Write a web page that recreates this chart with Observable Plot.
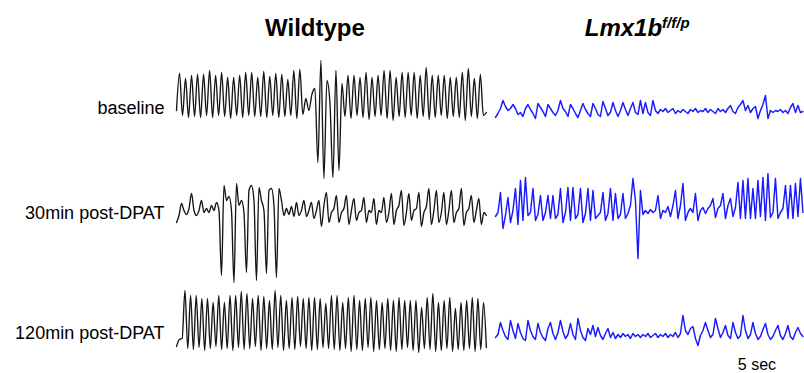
<!DOCTYPE html>
<html><head><meta charset="utf-8">
<script src="https://cdn.jsdelivr.net/npm/d3@7"></script>
<script src="https://cdn.jsdelivr.net/npm/@observablehq/plot@0.6"></script>
<style>
body{margin:0;background:#fff;font-family:"Liberation Sans",Arial,sans-serif}
#chart{width:804px;height:373px}
</style>
</head><body><div id="chart"></div>
<script>
// ---- categories / labels ----
const genotypes = ["Wildtype", "Lmx1b"];
const genotypeSup = ["", "f/f/p"];
const conditions = ["baseline", "30min post-DPAT", "120min post-DPAT"];
const scaleBarLabel = "5 sec";

// ---- trace values (amplitude relative to resting level, a.u.; evenly sampled in time) ----
const wtBaseline = [0,
 37,-5,32,-7,35,-6,36,-7,36,-5,40,-7,35,-5,38,-6,33,-8,33,-5,35,-7,38,-5,38,-6,33,-6,39,-7,34,-5,37,-7,36,-6,31,-5,40,-8,41,
 -4,12,0,16,22,-52,50,-68,30,8,-67,40,-60,27,
 -6,35,-8,35,-5,33,-7,38,-9,33,-6,35,-5,40,-8,40,-10,33,-6,38,-7,38,-5,38,-8,35,-6,43,-9,35,-7,35,-5,35,-8,33,-6,33,-7,38,-10,42,-6,32,-8,36,-5,
 -2];
const wt30min = [
 -10,-3,9,2,-2,4,19,2,-3,2,12,0,4,0,7,2,10,2,
 -63,27,12,16,2,-70,29,7,12,0,-60,22,27,12,-68,25,12,2,-61,22,24,7,-65,24,12,
 -3,4,-2,6,-4,10,-3,2,12,-4,2,10,-6,2,12,-14,7,20,-10,0,4,17,-10,0,4,17,-12,2,14,-8,0,2,15,-10,2,0,14,-12,2,0,15,-10,0,19,-12,2,7,22,-13,0,19,-8,2,4,20,-14,0,6,24,-12,2,22,-10,0,20,-12,2,22,-10,0,4,24,-13,0,4,17,-10,2,14,-12,0,-3];
const wt120min = [-1,6,7,
 55,-3,50,-4,50,-2,47,-5,47,-3,43,-1,50,-4,43,-3,50,-5,50,-2,
 54,-4,52,-3,47,-1,50,-5,49,-3,45,-4,55,-2,50,-5,45,-3,48,-4,
 49,-1,47,-3,48,-5,48,-4,47,-2,42,-3,50,-4,50,-5,
 43,-3,48,-6,50,-4,45,-5,47,-2,48,-6,45,-4,43,-3,47,-5,45,-6,
 48,-4,45,-2,45,-5,45,-7,38,-3,48,-4,52,-6,43,-5,45,-3,48,-6,
 37,-4,43,-5,45,-3,48,-6,47,-4,43,-2];
const lmxBaseline = [
 -6,-2,3,11,5,1,3,7,3,-3,-1,-5,3,7,2,-2,-7,8,4,0,-5,7,3,-1,-4,1,11,3,0,-5,7,3,-2,-6,1,8,2,-2,-5,8,3,-3,-5,10,3,-4,-1,9,1,-5,1,9,2,-4,3,9,-1,-3,11,-2,9,-1,-4,11,1,
 -2,2,0,3,-1,1,3,-2,1,-1,2,0,-2,2,0,3,-1,1,0,3,-1,2,0,-2,3,0,2,-1,3,
 6,0,-2,4,7,11,1,6,-1,3,5,-7,1,7,16,-7,1,-1,1,0,2,-1,1,-2,4,8,-1,6,-1,0];
const lmx30min = [
 -3,1,21,-15,-2,16,-9,3,25,-11,
 33,-7,36,-2,1,25,-7,-1,18,-7,
 1,18,-5,18,-5,-1,25,-9,1,26,
 -7,26,-5,-1,25,-9,0,25,-7,23,
 -5,-2,1,21,-7,0,25,-7,20,-5,
 -1,20,-5,0,8,35,13,-45,23,-1,
 3,0,4,1,3,18,-5,3,1,7,
 -3,8,23,-5,8,30,-7,1,5,1,
 20,-7,3,6,0,5,8,15,-4,5,
 8,20,-5,8,15,-3,6,31,-5,33,
 -5,35,-5,25,-5,33,-3,36,-7,40,
 -4,1,35,-5,1,5,28,-5,28,-5,
 30,-3,35,1];
const lmx120min = [
 -1,2,14,6,0,-3,16,6,-2,13,
 4,-2,-4,16,6,0,-3,13,4,-1,
 -4,8,14,3,-3,4,16,5,-2,2,
 13,2,-3,18,6,-1,-4,8,2,11,
 0,9,1,-3,3,8,-1,4,-2,2,
 -1,3,0,2,-2,3,0,2,-1,2,
 0,3,-1,1,3,-1,2,0,3,-1,
 2,0,4,-1,3,21,6,2,8,10,
 -2,-9,1,6,14,6,-1,2,18,8,
 -1,4,11,1,-2,14,4,-2,1,21,
 6,-2,2,14,3,-3,0,7,13,2,
 -3,0,6,11,1,-3,3,11,0,-3,
 4,9,3,0];

// ---- layout parameters ----
const traceStart = [0, 30.88];        // seconds on the shared time axis
const traceDuration = [30, 29.77];    // seconds
const restLevel = [[110, 111], [212, 213], [345, 336]]; // [condition][genotype], vertical units
const labelLevel = [108, 213, 333];
const titleCenter = [13.4, 44.6];
const titleLevel = 28;
const scaleBarPos = {t: 56.2, level: 364};

const traces = [
  {g: 0, c: 0, v: wtBaseline}, {g: 0, c: 1, v: wt30min}, {g: 0, c: 2, v: wt120min},
  {g: 1, c: 0, v: lmxBaseline}, {g: 1, c: 1, v: lmx30min}, {g: 1, c: 2, v: lmx120min}
];
const points = traces.flatMap(tr => tr.v.map((v, i) => ({
  trace: tr.g + "-" + tr.c,
  g: tr.g,
  genotype: genotypes[tr.g],
  t: traceStart[tr.g] + traceDuration[tr.g] * i / (tr.v.length - 1),
  y: restLevel[tr.c][tr.g] - v
})));

const font = '"Liberation Sans", Arial, sans-serif';
const plot = Plot.plot({
  width: 804, height: 373,
  marginLeft: 176, marginRight: 0, marginTop: 0, marginBottom: 0,
  style: {fontFamily: font, background: "#fff"},
  x: {domain: [0, 60.8], axis: null},
  y: {domain: [0, 373], reverse: true, axis: null},
  color: {domain: genotypes, range: ["#151515", "#1a1aff"]},
  marks: [
    Plot.line(points.filter(d => d.g === 0), {x: "t", y: "y", z: "trace", stroke: "genotype", strokeWidth: 1.35, strokeLinejoin: "round", curve: "monotone-x"}),
    Plot.line(points.filter(d => d.g === 1), {x: "t", y: "y", z: "trace", stroke: "genotype", strokeWidth: 1.45, strokeLinejoin: "round"}),
    Plot.text(conditions, {x: 0, y: (d, i) => labelLevel[i], text: d => d, textAnchor: "end", dx: -12, fontSize: 18, fill: "#000"}),
    Plot.text([genotypes[0]], {x: titleCenter[0], y: titleLevel, text: d => d, fontSize: 24, fontWeight: "bold", fill: "#000"}),
    Plot.text([genotypes[1]], {x: titleCenter[1], y: titleLevel, text: d => d, fontSize: 24, fontWeight: "bold", fontStyle: "italic", fill: "#000"}),
    Plot.text([scaleBarLabel], {x: scaleBarPos.t, y: scaleBarPos.level, text: d => d, fontSize: 16, fill: "#000"})
  ]
});
d3.select(plot).selectAll("text").each(function() {
  if (this.textContent === genotypes[1]) {
    d3.select(this).append("tspan").attr("font-size", 15).attr("dy", "-0.55em").text(genotypeSup[1]);
  }
});
document.getElementById("chart").append(plot);
</script>
</body></html>
